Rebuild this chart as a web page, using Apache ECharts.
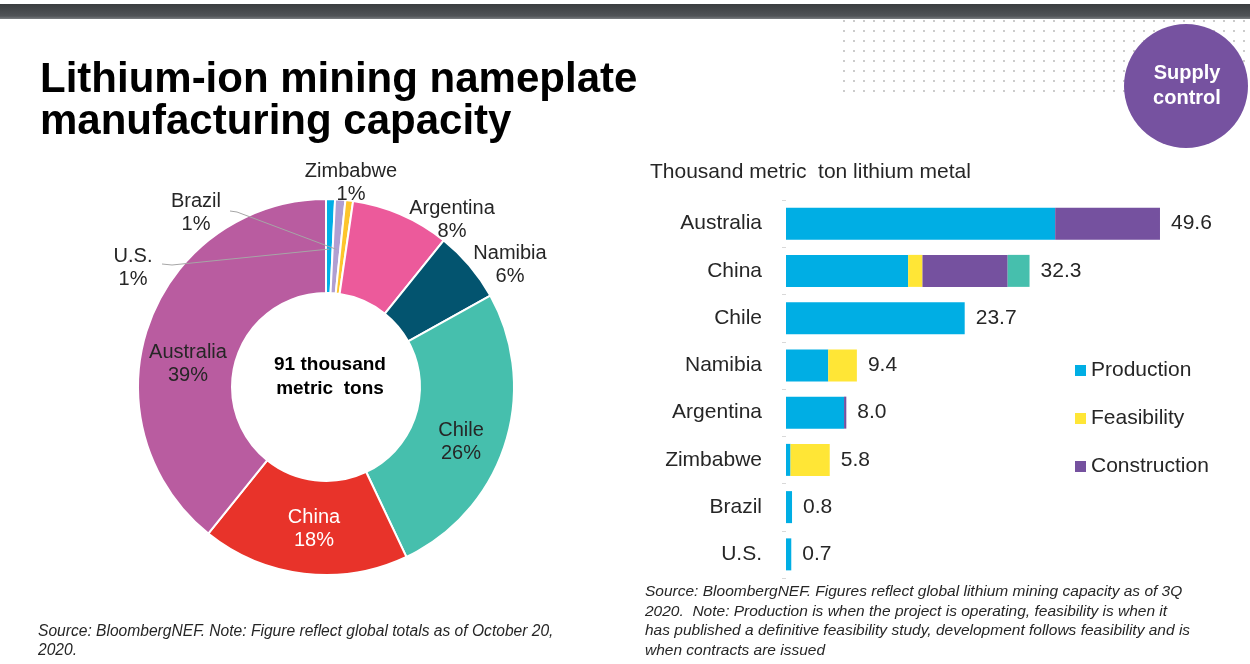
<!DOCTYPE html>
<html>
<head>
<meta charset="utf-8">
<script src="https://cdn.jsdelivr.net/npm/echarts@6/dist/echarts.min.js"></script>
<style>
  html, body { margin: 0; padding: 0; background: #fff; }
  #chart { width: 1250px; height: 664px; }
</style>
</head>
<body>
<div id="chart"></div>
<script>
// donut: production capacity by country, clockwise from 12 o'clock
const pieNames = ['U.S.', 'Brazil', 'Zimbabwe', 'Argentina', 'Namibia', 'Chile', 'China', 'Australia'];
const pieValues = [0.7, 0.8, 0.6, 7.7, 5.6, 23.7, 16.2, 35.7];

// stacked bars, thousand metric ton lithium metal
const categories = ['Australia', 'China', 'Chile', 'Namibia', 'Argentina', 'Zimbabwe', 'Brazil', 'U.S.'];
const production = [35.7, 16.2, 23.7, 5.6, 7.7, 0.6, 0.8, 0.7];
const feasibility = [0, 1.9, 0, 3.8, 0, 5.2, 0, 0];
const construction = [13.9, 11.3, 0, 0, 0.3, 0, 0, 0];
const other = [0, 2.9, 0, 0, 0, 0, 0, 0];
const totals = [49.6, 32.3, 23.7, 9.4, 8.0, 5.8, 0.8, 0.7];

const FONT = 'Liberation Sans, Arial, sans-serif';
const TEXT = '#262626';

const PIE_CENTER = [326, 387];
const PIE_RADIUS = [94, 188];

const PIE_COLORS = {
  'U.S.': '#00aee6', 'Brazil': '#b09fd2', 'Zimbabwe': '#fdc52c', 'Argentina': '#ec5a9b',
  'Namibia': '#03546f', 'Chile': '#46bfad', 'China': '#e8332a', 'Australia': '#b95ca0'
};
// where each donut label sits (centre of the text block)
const PIE_LABEL_POS = {
  'U.S.': [133, 268], 'Brazil': [196, 213], 'Zimbabwe': [351, 183], 'Argentina': [452, 220],
  'Namibia': [510, 265], 'Chile': [461, 442], 'China': [314, 529], 'Australia': [188, 364]
};
// leader lines: start at the label, elbow, then run into the slice
const LEADERS = {
  'U.S.': [[162, 264], [172, 265]],
  'Brazil': [[230, 211], [237, 212]]
};

const chart = echarts.init(document.getElementById('chart'));

// dotted pattern behind the "Supply control" badge
const dots = [];
for (let r = 0; r < 8; r++) {
  for (let c = 0; c < 41; c++) {
    dots.push({
      type: 'circle',
      shape: { cx: 844 + c * 10, cy: 21 + r * 10, r: 0.9 },
      style: { fill: '#b4b4b4' },
      silent: true
    });
  }
}

// leader line end points: mid-angle of the slice, half way through the ring
const pieTotal = pieValues.reduce((a, b) => a + b, 0);
const leaderLines = [];
let acc = 0;
pieNames.forEach((name, i) => {
  const mid = (acc + pieValues[i] / 2) / pieTotal * Math.PI * 2;
  acc += pieValues[i];
  if (!LEADERS[name]) return;
  const rr = (PIE_RADIUS[0] + PIE_RADIUS[1]) / 2 - 3;
  const end = [PIE_CENTER[0] + rr * Math.sin(mid), PIE_CENTER[1] - rr * Math.cos(mid)];
  leaderLines.push({
    type: 'polyline',
    z: 100,
    shape: { points: LEADERS[name].concat([end]) },
    style: { stroke: '#a6a6a6', lineWidth: 1, fill: null },
    silent: true
  });
});

const pieData = pieNames.map((name, i) => {
  const item = {
    name: name,
    value: pieValues[i],
    itemStyle: { color: PIE_COLORS[name] }
  };
  if (name === 'China') item.label = { color: '#ffffff' };
  return item;
});

const SRC_FONT = 'italic 15.6px "Liberation Sans Narrow", "Arial Narrow", ' + FONT;

const option = {
  animation: false,
  graphic: [
    {
      type: 'rect',
      shape: { x: 0, y: 4, width: 1250, height: 15 },
      style: {
        fill: new echarts.graphic.LinearGradient(0, 0, 0, 1, [
          { offset: 0, color: '#3a3d40' },
          { offset: 0.8, color: '#505357' },
          { offset: 1, color: '#7a7d80' }
        ])
      },
      silent: true
    },
    ...dots,
    ...leaderLines,
    {
      type: 'circle',
      shape: { cx: 1186, cy: 86, r: 62 },
      style: { fill: '#7652a0' },
      z: 10
    },
    {
      type: 'text',
      x: 1187, y: 86, z: 11,
      style: {
        text: 'Supply\ncontrol', fill: '#ffffff', font: 'bold 20px ' + FONT,
        align: 'center', verticalAlign: 'middle', lineHeight: 25
      }
    },
    {
      type: 'text', x: 40, y: 80,
      style: { text: 'Lithium-ion mining nameplate', fill: '#000', font: 'bold 42px ' + FONT, verticalAlign: 'middle' }
    },
    {
      type: 'text', x: 40, y: 122,
      style: { text: 'manufacturing capacity', fill: '#000', font: 'bold 42px ' + FONT, verticalAlign: 'middle' }
    },
    {
      type: 'text', x: 650, y: 172,
      style: { text: 'Thousand metric  ton lithium metal', fill: TEXT, font: '21px ' + FONT, verticalAlign: 'middle' }
    },
    {
      type: 'text', x: 330, y: 377,
      style: {
        text: '91 thousand\nmetric  tons', fill: '#000', font: 'bold 19px ' + FONT,
        align: 'center', verticalAlign: 'middle', lineHeight: 24
      }
    },
    {
      type: 'text', x: 38, y: 641,
      style: {
        text: 'Source: BloombergNEF. Note: Figure reflect global totals as of October 20,\n2020.',
        fill: TEXT, font: SRC_FONT, verticalAlign: 'middle', lineHeight: 19.5
      }
    },
    {
      type: 'text', x: 645, y: 621,
      style: {
        text: 'Source: BloombergNEF. Figures reflect global lithium mining capacity as of 3Q\n' +
              '2020.  Note: Production is when the project is operating, feasibility is when it\n' +
              'has published a definitive feasibility study, development follows feasibility and is\n' +
              'when contracts are issued',
        fill: TEXT, font: 'italic 15.5px "Liberation Sans Narrow", "Arial Narrow", ' + FONT,
        verticalAlign: 'middle', lineHeight: 19.5
      }
    }
  ],
  legend: {
    data: ['Production', 'Feasibility', 'Construction'],
    orient: 'vertical',
    left: 1070,
    top: 355,
    itemWidth: 11,
    itemHeight: 11,
    itemGap: 27,
    icon: 'rect',
    selectedMode: false,
    textStyle: { color: TEXT, fontSize: 21, fontFamily: FONT }
  },
  grid: { left: 786, top: 200, width: 377, height: 378 },
  xAxis: {
    type: 'value', min: 0, max: 50, show: false
  },
  yAxis: {
    type: 'category',
    data: categories,
    inverse: true,
    axisLine: { show: false },
    axisTick: { show: true, length: 4, lineStyle: { color: '#d9d9d9' } },
    axisLabel: { color: TEXT, fontSize: 21, fontFamily: FONT, margin: 24 }
  },
  series: [
    {
      type: 'pie',
      center: PIE_CENTER,
      radius: PIE_RADIUS,
      startAngle: 90,
      clockwise: true,
      avoidLabelOverlap: false,
      itemStyle: { borderColor: '#ffffff', borderWidth: 2 },
      label: {
        show: true,
        position: 'outside',
        color: TEXT,
        fontSize: 20,
        fontFamily: FONT,
        lineHeight: 23,
        align: 'center',
        formatter: p => p.name + '\n' + Math.round(p.percent) + '%'
      },
      labelLine: { show: false },
      labelLayout: function (params) {
        const pos = PIE_LABEL_POS[pieNames[params.dataIndex]];
        return { x: pos[0], y: pos[1], align: 'center', verticalAlign: 'middle', hideOverlap: false };
      },
      emphasis: { disabled: true },
      data: pieData
    },
    {
      name: 'Production', type: 'bar', stack: 'cap', barWidth: 32, barGap: '-100%',
      itemStyle: { color: '#00aee4' }, data: production
    },
    {
      name: 'Feasibility', type: 'bar', stack: 'cap', barWidth: 32, barGap: '-100%',
      itemStyle: { color: '#ffe636' }, data: feasibility
    },
    {
      name: 'Construction', type: 'bar', stack: 'cap', barWidth: 32, barGap: '-100%',
      itemStyle: { color: '#75519f' }, data: construction
    },
    {
      name: 'Other', type: 'bar', stack: 'cap', barWidth: 32, barGap: '-100%',
      itemStyle: { color: '#46bfad' }, data: other
    },
    {
      name: 'Total', type: 'bar', barWidth: 32, barGap: '-100%', z: 1, silent: true,
      itemStyle: { color: 'rgba(0,0,0,0)' },
      label: {
        show: true, position: 'right', distance: 11, color: TEXT, fontSize: 21, fontFamily: FONT,
        formatter: p => p.value.toFixed(1)
      },
      data: totals
    }
  ]
};

chart.setOption(option);
</script>
</body>
</html>
